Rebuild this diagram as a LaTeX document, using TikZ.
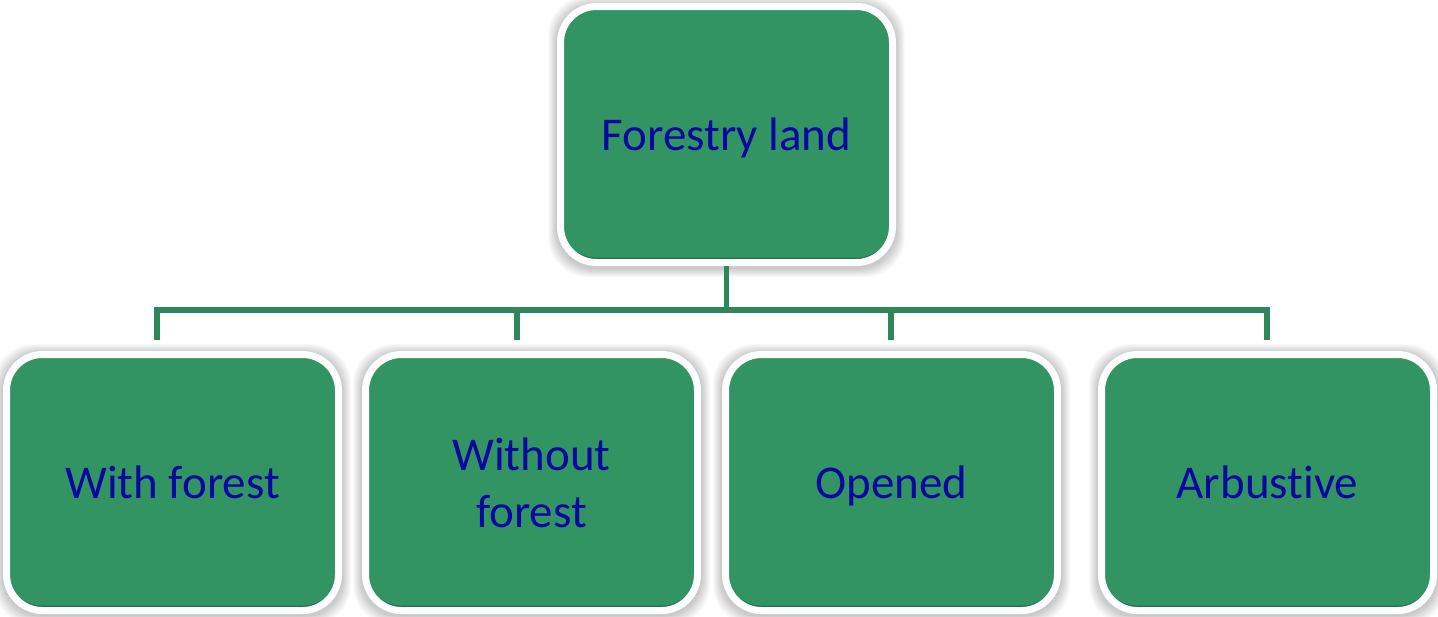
\documentclass[tikz,border=0pt]{standalone}
\usepackage{fontspec}
\setmainfont{Carlito}[Ligatures={NoCommon}]
\usetikzlibrary{backgrounds}

\definecolor{boxgreen}{RGB}{50,148,99}
\definecolor{rimgreen}{RGB}{34,116,76}
\definecolor{linegreen}{RGB}{46,134,90}
\definecolor{labelblue}{RGB}{8,8,160}

\begin{document}
\begin{tikzpicture}[x=1pt,y=-1pt,
  catbox/.style={rounded corners=36pt, minimum width=332pt, minimum height=256pt,
    fill=rimgreen, draw=white, line width=7pt, inner sep=0pt, align=center,
    text=labelblue, font=\fontsize{47}{57}\selectfont,
    path picture={\fill[boxgreen]
      ([yshift=5pt]path picture bounding box.south west)
      rectangle ([yshift=-2pt]path picture bounding box.north east);}},
  oneline/.style={text height=32pt, text depth=0pt},
  link/.style={draw=linegreen, line width=5.5pt},
  glow/.style={fill=black, opacity=0.025, rounded corners=40pt}]

  \useasboundingbox (0,0) rectangle (1438,616);

  % category boxes
  \node[catbox, oneline] (top) at (726.5,134.5) {Forestry land};
  \node[catbox, oneline] (b1) at (172.5,482.5) {With forest};
  \node[catbox] (b2) at (531.5,482.5) {Without\\forest};
  \node[catbox, oneline] (b3) at (891.5,482.5) {Opened};
  \node[catbox, oneline] (b4) at (1267.5,482.5) {Arbustive};

  % tree connectors
  \coordinate (bus) at (726.5,310);
  \coordinate (d1) at ([xshift=-15.5pt,yshift=11pt]b1.north);
  \coordinate (d2) at ([xshift=-14.5pt,yshift=11pt]b2.north);
  \coordinate (d3) at ([xshift=-0.5pt,yshift=11pt]b3.north);
  \coordinate (d4) at ([xshift=-0.5pt,yshift=11pt]b4.north);
  \draw[link] (top.south) -- (top.south |- bus);
  \draw[link] (d1) -- (d1 |- bus) -- (d4 |- bus) -- (d4);
  \draw[link] (d2) -- (d2 |- bus);
  \draw[link] (d3) -- (d3 |- bus);

  % white page and soft shadows under the boxes
  \begin{scope}[on background layer]
    \fill[white] (0,0) rectangle (1438,616);
    \foreach \n in {top,b1,b2,b3,b4}{
      \foreach \k in {1,...,9}{
        \fill[glow] ([xshift=-\k pt, yshift=-\k pt-2pt]\n.south west)
          rectangle ([xshift=\k pt, yshift=\k pt-2pt]\n.north east);
      }
    }
  \end{scope}
\end{tikzpicture}
\end{document}
